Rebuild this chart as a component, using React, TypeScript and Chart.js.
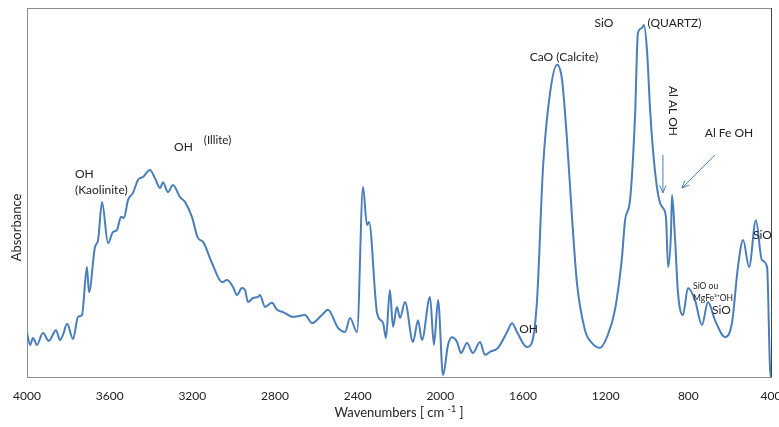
import { useEffect, useRef } from "react";
import { Chart, registerables } from "chart.js";

Chart.register(...registerables);

// Wavenumber (cm-1) of each sampled point of the spectrum
const wavenumbers = [
  4000, 3985, 3971, 3952, 3923, 3894, 3860, 3840, 3826, 3806, 3777, 3753, 3734, 3710, 3700,
  3671, 3656, 3637, 3608, 3584, 3565, 3545, 3531, 3511, 3487, 3463, 3439, 3405, 3381, 3356,
  3342, 3318, 3294, 3260, 3235, 3202, 3173, 3148, 3105, 3056, 3032, 3003, 2984, 2960, 2945,
  2931, 2906, 2882, 2873, 2848, 2815, 2790, 2761, 2713, 2655, 2621, 2573, 2544, 2495, 2461,
  2437, 2403, 2374, 2355, 2345, 2306, 2277, 2263, 2244, 2229, 2210, 2195, 2171, 2132, 2108,
  2089, 2050, 2031, 2011, 1987, 1963, 1944, 1919, 1900, 1871, 1842, 1808, 1784, 1760, 1721,
  1677, 1653, 1629, 1581, 1556, 1532, 1503, 1469, 1435, 1411, 1387, 1363, 1339, 1300, 1266,
  1227, 1194, 1155, 1121, 1106, 1082, 1058, 1044, 1024, 1015, 1000, 985, 971, 952, 937,
  923, 908, 898, 884, 879, 864, 850, 826, 802, 768, 734, 705, 671, 622, 589,
  560, 535, 506, 473, 444, 419, 405, 400,
];

// Absorbance (arbitrary units, 0..1) at each wavenumber above
const absorbance = [
  0.119, 0.087, 0.106, 0.087, 0.119, 0.098, 0.127, 0.1, 0.114, 0.144, 0.103, 0.163, 0.168, 0.298, 0.23,
  0.352, 0.371, 0.474, 0.363, 0.393, 0.398, 0.434, 0.431, 0.48, 0.499, 0.534, 0.542, 0.561, 0.539, 0.512,
  0.528, 0.501, 0.52, 0.488, 0.474, 0.434, 0.377, 0.366, 0.309, 0.257, 0.263, 0.244, 0.222, 0.241, 0.236,
  0.203, 0.214, 0.217, 0.222, 0.19, 0.201, 0.182, 0.176, 0.163, 0.168, 0.146, 0.168, 0.182, 0.133, 0.122,
  0.16, 0.122, 0.515, 0.412, 0.42, 0.173, 0.146, 0.106, 0.236, 0.136, 0.19, 0.16, 0.203, 0.095, 0.154,
  0.1, 0.217, 0.087, 0.209, 0.005, 0.087, 0.108, 0.095, 0.065, 0.092, 0.065, 0.095, 0.06, 0.068, 0.079,
  0.122, 0.146, 0.122, 0.081, 0.095, 0.209, 0.569, 0.77, 0.846, 0.805, 0.642, 0.434, 0.255, 0.127, 0.092,
  0.079, 0.108, 0.182, 0.325, 0.425, 0.48, 0.705, 0.932, 0.946, 0.954, 0.886, 0.724, 0.615, 0.515, 0.472,
  0.458, 0.431, 0.298, 0.39, 0.493, 0.371, 0.228, 0.168, 0.241, 0.209, 0.141, 0.203, 0.154, 0.108, 0.146,
  0.298, 0.371, 0.298, 0.425, 0.317, 0.298, 0.027, 0,
];

const xTickValues = [4000, 3600, 3200, 2800, 2400, 2000, 1600, 1200, 800, 400];

const xTitle = "Wavenumbers [ cm ";
const xTitleSup = "-1";
const xTitleEnd = " ]";
const yTitle = "Absorbance";

// Band labels, placed in data coordinates (wavenumber, absorbance)
const labelTexts = [
  "OH", "(Kaolinite)", "OH", "(Illite)", "CaO (Calcite)", "SiO", "(QUARTZ)",
  "Al AL OH", "Al Fe OH", "SiO ou", "MgFe³⁺OH", "SiO", "SiO", "OH",
];
const labelWaves = [3768, 3768, 3243, 3078, 1402, 1208, 867, 877, 603, 777, 777, 640, 487, 1573];
const labelAbs = [0.55, 0.507, 0.623, 0.642, 0.867, 0.959, 0.959, 0.721, 0.661, 0.247, 0.214, 0.182, 0.385, 0.13];

// Arrows: from (wave, abs) to (wave, abs)
const arrowFromW = [923, 671];
const arrowFromA = [0.602, 0.602];
const arrowToW = [923, 831];
const arrowToA = [0.499, 0.512];

const FONT = "Lato, 'Open Sans', sans-serif";
const LINE = "#4a7ebb";

type LabelStyle = { size: number; align: CanvasTextAlign; rotate?: boolean };
const labelStyles: LabelStyle[] = [
  { size: 12, align: "left" },
  { size: 12, align: "left" },
  { size: 12, align: "center" },
  { size: 11.5, align: "center" },
  { size: 12, align: "center" },
  { size: 12, align: "center" },
  { size: 12, align: "center" },
  { size: 12, align: "center", rotate: true },
  { size: 12, align: "center" },
  { size: 8.5, align: "left" },
  { size: 8.5, align: "left" },
  { size: 12, align: "center" },
  { size: 12, align: "left" },
  { size: 12, align: "center" },
];

const overlayPlugin = {
  id: "overlay",
  afterDraw(chart: any) {
    const { ctx, chartArea, scales } = chart;
    const xs = scales.x;
    const ys = scales.y;
    ctx.save();
    // frame top and right
    ctx.lineWidth = 1;
    ctx.strokeStyle = "#8c8c8c";
    ctx.beginPath();
    ctx.moveTo(chartArea.left, chartArea.top + 0.5);
    ctx.lineTo(chartArea.right, chartArea.top + 0.5);
    ctx.stroke();
    ctx.strokeStyle = "#444";
    ctx.beginPath();
    ctx.moveTo(chartArea.right + 0.5, chartArea.top);
    ctx.lineTo(chartArea.right + 0.5, chartArea.bottom);
    ctx.stroke();

    // labels
    ctx.fillStyle = "#222";
    ctx.textBaseline = "middle";
    labelTexts.forEach((t, i) => {
      const st = labelStyles[i];
      const px = xs.getPixelForValue(labelWaves[i]);
      const py = ys.getPixelForValue(labelAbs[i]);
      ctx.font = `${st.size}px ${FONT}`;
      ctx.textAlign = st.align;
      if (st.rotate) {
        ctx.save();
        ctx.translate(px, py);
        ctx.rotate(Math.PI / 2);
        ctx.fillText(t, 0, 0);
        ctx.restore();
      } else {
        ctx.fillText(t, px, py);
      }
    });

    // arrows
    ctx.strokeStyle = LINE;
    ctx.fillStyle = LINE;
    ctx.lineWidth = 1;
    arrowFromW.forEach((_, i) => {
      const x1 = xs.getPixelForValue(arrowFromW[i]);
      const y1 = ys.getPixelForValue(arrowFromA[i]);
      const x2 = xs.getPixelForValue(arrowToW[i]);
      const y2 = ys.getPixelForValue(arrowToA[i]);
      ctx.beginPath();
      ctx.moveTo(x1, y1);
      ctx.lineTo(x2, y2);
      ctx.stroke();
      const ang = Math.atan2(y2 - y1, x2 - x1);
      const L = 8;
      ctx.beginPath();
      ctx.moveTo(x2 - L * Math.cos(ang - 0.4), y2 - L * Math.sin(ang - 0.4));
      ctx.lineTo(x2, y2);
      ctx.lineTo(x2 - L * Math.cos(ang + 0.4), y2 - L * Math.sin(ang + 0.4));
      ctx.stroke();
    });

    // axis titles
    ctx.fillStyle = "#222";
    ctx.textBaseline = "middle";
    ctx.font = `13px ${FONT}`;
    const w1 = ctx.measureText(xTitle).width;
    const w3 = ctx.measureText(xTitleEnd).width;
    ctx.font = `9px ${FONT}`;
    const w2 = ctx.measureText(xTitleSup).width;
    const cx = (chartArea.left + chartArea.right) / 2;
    const ty = 413;
    let sx = cx - (w1 + w2 + w3) / 2;
    ctx.textAlign = "left";
    ctx.font = `13px ${FONT}`;
    ctx.fillText(xTitle, sx, ty);
    sx += w1;
    ctx.font = `9px ${FONT}`;
    ctx.fillText(xTitleSup, sx, ty - 4);
    sx += w2;
    ctx.font = `13px ${FONT}`;
    ctx.fillText(xTitleEnd, sx, ty);

    ctx.save();
    ctx.translate(17, (chartArea.top + chartArea.bottom) / 2 + 35);
    ctx.rotate(-Math.PI / 2);
    ctx.textAlign = "center";
    ctx.fillText(yTitle, 0, 0);
    ctx.restore();
    ctx.restore();
  },
};

export default function App() {
  const ref = useRef<HTMLCanvasElement | null>(null);
  useEffect(() => {
    document.body.style.margin = "0";
    const canvas = ref.current;
    if (!canvas) return;
    const points = wavenumbers.map((w, i) => ({ x: w, y: absorbance[i] }));
    const chart = new Chart(canvas, {
      type: "line",
      data: {
        datasets: [
          {
            data: points,
            borderColor: LINE,
            borderWidth: 2,
            pointRadius: 0,
            cubicInterpolationMode: "monotone",
            fill: false,
          },
        ],
      },
      options: {
        responsive: false,
        animation: false,
        layout: { padding: { left: 27, right: 8, top: 8, bottom: 0 } },
        plugins: { legend: { display: false }, tooltip: { enabled: false } },
        scales: {
          x: {
            type: "linear",
            min: 400,
            max: 4000,
            reverse: true,
            afterBuildTicks: (s: any) => {
              s.ticks = xTickValues.map((v) => ({ value: v }));
            },
            afterFit: (s: any) => {
              s.height = 50;
              s.paddingLeft = 0;
              s.paddingRight = 0;
            },
            grid: { display: false },
            border: { display: true, color: "#8c8c8c", width: 1 },
            ticks: {
              autoSkip: false,
              maxRotation: 0,
              padding: 4,
              color: "#222",
              font: { family: FONT, size: 12 },
              callback: (v: any) => String(v),
            },
          },
          y: {
            min: 0,
            max: 1,
            display: true,
            grid: { display: false },
            border: { display: true, color: "#8c8c8c", width: 1 },
            ticks: { display: false },
            afterFit: (s: any) => {
              s.width = 0;
            },
          },
        },
      },
      plugins: [overlayPlugin],
    });
    return () => chart.destroy();
  }, []);
  return <canvas ref={ref} width={779} height={427} style={{ display: "block" }} />;
}
